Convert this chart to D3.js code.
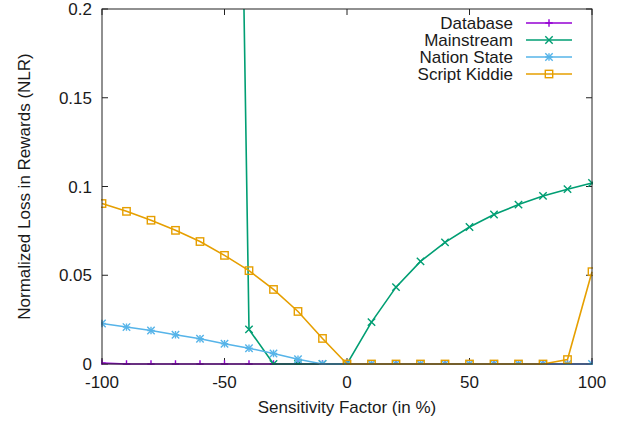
<!DOCTYPE html>
<html>
<head>
<meta charset="utf-8">
<script src="https://cdn.jsdelivr.net/npm/d3@7"></script>
<style>
body { margin: 0; background: #fff; }
text { font-family: "Liberation Sans", Arial, sans-serif; fill: #1a1a1a; }
</style>
</head>
<body>
<svg id="chart"></svg>
<script>
var factors = [-100, -90, -80, -70, -60, -50, -40, -30, -20, -10, 0, 10, 20, 30, 40, 50, 60, 70, 80, 90, 100];

var database = [0.0005, 0, 0, 0, 0, 0, 0, 0, 0, 0, 0, 0, 0, 0, 0, 0, 0, 0, 0, 0, 0];
var mainstream = [1.5, 1.4, 1.3, 1.2, 1.05, 0.9, 0.0195, 0, 0, 0, 0, 0.0236, 0.0433, 0.0578, 0.0685, 0.0772, 0.0842, 0.0898, 0.0947, 0.0985, 0.102];
var nationState = [0.0228, 0.0208, 0.0189, 0.0165, 0.0142, 0.0114, 0.0089, 0.0059, 0.0027, 0, 0, 0, 0, 0, 0, 0, 0, 0, 0, 0, 0];
var scriptKiddie = [0.0904, 0.086, 0.081, 0.0753, 0.069, 0.0612, 0.0526, 0.042, 0.0296, 0.0144, 0, 0, 0, 0, 0, 0, 0, 0, 0, 0.0025, 0.052];

var xTicks = [-100, -50, 0, 50, 100];
var yTicks = [0, 0.05, 0.1, 0.15, 0.2];

var series = [
    {name: "Database", values: database, color: "#9400d3", pt: "plus"},
    {name: "Mainstream", values: mainstream, color: "#009e73", pt: "cross"},
    {name: "Nation State", values: nationState, color: "#56b4e9", pt: "star"},
    {name: "Script Kiddie", values: scriptKiddie, color: "#e69f00", pt: "square"}
];

var margin = {top: 9, right: 32, bottom: 58, left: 102};
var width = 624, height = 422;
var plotW = width - margin.left - margin.right;
var plotH = height - margin.top - margin.bottom;
var fs = "17px";

var svg = d3.select("#chart")
    .attr("width", width)
    .attr("height", height);

var x = d3.scaleLinear().domain([-100, 100]).range([0, plotW]);
var y = d3.scaleLinear().domain([0, 0.2]).range([plotH, 0]);

svg.append("defs").append("clipPath")
    .attr("id", "clip")
    .append("rect")
    .attr("x", -1).attr("y", 0)
    .attr("width", plotW + 2).attr("height", plotH + 1);

var g = svg.append("g")
    .attr("transform", "translate(" + margin.left + "," + margin.top + ")");

// ticks (inward, mirrored)
var tickLen = 6;
xTicks.forEach(function (t) {
    g.append("line").attr("x1", x(t)).attr("x2", x(t)).attr("y1", plotH).attr("y2", plotH - tickLen)
        .attr("stroke", "#222").attr("stroke-width", 1);
    g.append("line").attr("x1", x(t)).attr("x2", x(t)).attr("y1", 0).attr("y2", tickLen)
        .attr("stroke", "#222").attr("stroke-width", 1);
    g.append("text").attr("x", x(t)).attr("y", plotH + 24)
        .attr("text-anchor", "middle").style("font-size", fs)
        .text(t);
});
yTicks.forEach(function (t) {
    g.append("line").attr("x1", 0).attr("x2", tickLen).attr("y1", y(t)).attr("y2", y(t))
        .attr("stroke", "#222").attr("stroke-width", 1);
    g.append("line").attr("x1", plotW).attr("x2", plotW - tickLen).attr("y1", y(t)).attr("y2", y(t))
        .attr("stroke", "#222").attr("stroke-width", 1);
    g.append("text").attr("x", -10).attr("y", y(t) + 6)
        .attr("text-anchor", "end").style("font-size", fs)
        .text(t);
});

function marker(sel, type, color) {
    var s = 3.7;
    if (type === "plus" || type === "star") {
        sel.append("path").attr("d", "M" + (-s) + ",0H" + s + "M0," + (-s) + "V" + s)
            .attr("stroke", color).attr("stroke-width", 1.4).attr("fill", "none");
    }
    if (type === "cross" || type === "star") {
        sel.append("path").attr("d", "M" + (-s) + "," + (-s) + "L" + s + "," + s + "M" + (-s) + "," + s + "L" + s + "," + (-s))
            .attr("stroke", color).attr("stroke-width", 1.4).attr("fill", "none");
    }
    if (type === "square") {
        sel.append("rect").attr("x", -s).attr("y", -s).attr("width", 2 * s).attr("height", 2 * s)
            .attr("stroke", color).attr("stroke-width", 1.4).attr("fill", "none");
    }
}

var line = d3.line()
    .x(function (d) { return x(d[0]); })
    .y(function (d) { return y(d[1]); });

var plot = g.append("g").attr("clip-path", "url(#clip)");

series.forEach(function (s) {
    var pts = factors.map(function (f, i) { return [f, s.values[i]]; });
    plot.append("path")
        .datum(pts)
        .attr("d", line)
        .attr("fill", "none")
        .attr("stroke", s.color)
        .attr("stroke-width", 1.6);
    plot.selectAll(null)
        .data(pts.filter(function (d) { return d[1] <= 0.2; }))
        .enter().append("g")
        .attr("transform", function (d) { return "translate(" + x(d[0]) + "," + y(d[1]) + ")"; })
        .each(function () { marker(d3.select(this), s.pt, s.color); });
});

// border
g.append("rect")
    .attr("x", 0).attr("y", 0)
    .attr("width", plotW).attr("height", plotH)
    .attr("fill", "none").attr("stroke", "#222").attr("stroke-width", 1);

// legend
var legend = g.append("g").attr("transform", "translate(" + (513 - margin.left) + "," + (23 - margin.top) + ")");
series.forEach(function (s, i) {
    var row = legend.append("g").attr("transform", "translate(0," + (i * 17) + ")");
    row.append("text").attr("x", 0).attr("y", 6)
        .attr("text-anchor", "end").style("font-size", fs)
        .text(s.name);
    row.append("line").attr("x1", 13).attr("x2", 59).attr("y1", 0).attr("y2", 0)
        .attr("stroke", s.color).attr("stroke-width", 1.6);
    var m = row.append("g").attr("transform", "translate(36,0)");
    marker(m, s.pt, s.color);
});

// axis titles
svg.append("text")
    .attr("x", margin.left + plotW / 2).attr("y", 413)
    .attr("text-anchor", "middle").style("font-size", fs)
    .text("Sensitivity Factor (in %)");
svg.append("text")
    .attr("transform", "translate(30," + (margin.top + plotH / 2) + ") rotate(-90)")
    .attr("text-anchor", "middle").style("font-size", fs)
    .text("Normalized Loss in Rewards (NLR)");
</script>
</body>
</html>
